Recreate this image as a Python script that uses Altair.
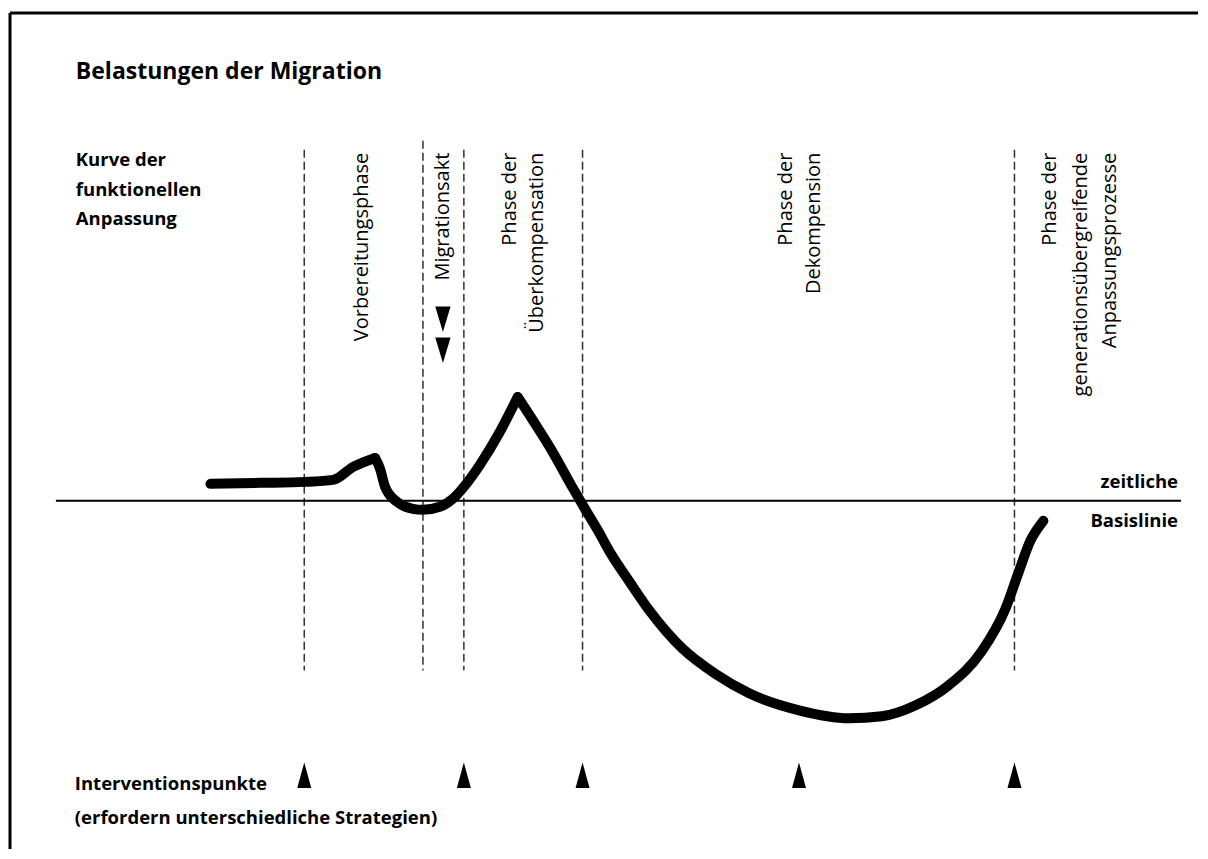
import altair as alt
import pandas as pd

# ---- data (time in arbitrary units, adaptation relative to the temporal baseline) ----
seg1_t = [20.2, 25.2, 29.6, 32.5, 34.5, 36.7]
seg1_a = [1.7, 1.8, 1.9, 2.1, 3.4, 4.3]
seg2_t = [36.7, 37.2, 37.7, 38.9, 40.5, 41.5, 43.2, 44.5, 45.6, 47.2, 49.2, 51.0]
seg2_a = [4.3, 3.2, 1.4, -0.1, -0.8, -0.9, -0.6, 0.2, 1.4, 3.6, 6.9, 10.4]
seg3_t = [51.0, 52.5, 54.5, 56.4, 57.5, 59.0, 60.4, 62.2, 64.2, 67.5, 70.9, 74.2,
          79.2, 84.2, 87.5, 90.9, 94.2, 97.5, 99.9, 101.2, 102.4, 103.7]
seg3_a = [10.4, 8.1, 4.9, 1.5, -0.4, -2.9, -5.4, -8.1, -11.0, -14.8, -17.4, -19.3,
          -21.0, -21.8, -21.6, -20.5, -18.5, -15.1, -10.8, -7.2, -4.0, -2.0]

phase_bounds = [29.6, 41.5, 45.6, 57.5, 100.8]
intervention_points = [29.6, 45.6, 57.5, 79.2, 100.8]

phase_label_t = [35.4, 43.5, 50.2, 52.9, 77.9, 80.7, 104.4, 107.5, 110.4]
phase_label_text = ["Vorbereitungsphase", "Migrationsakt", "Phase der", "Überkompensation",
                    "Phase der", "Dekompension", "Phase der", "generationsübergreifende",
                    "Anpassungsprozesse"]

migration_arrow_t = [43.5, 43.5]
migration_arrow_a = [18.2, 15.1]

title_text = "Belastungen der Migration"
ylabel_lines = ["Kurve der", "funktionellen", "Anpassung"]
ylabel_a = [34.2, 31.2, 28.2]
bottom_lines = ["Interventionspunkte", "(erfordern unterschiedliche Strategien)"]
bottom_a = [-28.4, -31.8]
baseline_lines = ["zeitliche", "Basislinie"]
baseline_label_a = [1.9, -2.0]

# ---- layout (chart coordinate frame) ----
T_MIN, T_MAX = 0, 119.2
A_MIN, A_MAX = -34.9, 49.4
LEFT_TEXT_T = 6.7
RIGHT_TEXT_T = 117.2
TITLE_A = 43.0
PHASE_TOP = 35.2
PHASE_BOTTOM = -17.0
PHASE_LABEL_TOP = 34.9
TRI_A = -27.5
BASE_T0, BASE_T1 = 4.7, 117.5
FRAME_T, FRAME_A = 0.1, 48.9

FONT = "Open Sans"

xs = alt.Scale(domain=[T_MIN, T_MAX], nice=False, zero=False)
ys = alt.Scale(domain=[A_MIN, A_MAX], nice=False, zero=False)
X = lambda f="t": alt.X(f"{f}:Q", scale=xs, axis=None)
Y = lambda f="a": alt.Y(f"{f}:Q", scale=ys, axis=None)

rows = []
for s, (ts, as_) in enumerate([(seg1_t, seg1_a), (seg2_t, seg2_a), (seg3_t, seg3_a)]):
    for i, (t, a) in enumerate(zip(ts, as_)):
        rows.append({"t": t, "a": a, "seg": s, "o": i})
curve_df = pd.DataFrame(rows)
curve = alt.Chart(curve_df).mark_line(
    color="black", strokeWidth=10, strokeCap="round", strokeJoin="round", interpolate="monotone"
).encode(x=X(), y=Y(), detail="seg:N", order="o:Q")

baseline = alt.Chart(pd.DataFrame({"t": [BASE_T0], "t2": [BASE_T1], "a": [0.0]})).mark_rule(
    color="black", strokeWidth=2
).encode(x=X(), x2="t2:Q", y=Y())

tops = [PHASE_TOP] * len(phase_bounds)
tops[1] = 36.1
dashed = alt.Chart(pd.DataFrame({"t": phase_bounds, "a": tops,
                                 "a2": [PHASE_BOTTOM] * len(phase_bounds)})).mark_rule(
    color="#333333", strokeWidth=1.5, strokeDash=[8, 4]
).encode(x=X(), y=Y(), y2="a2:Q")

frame_top = alt.Chart(pd.DataFrame({"t": [FRAME_T], "t2": [T_MAX], "a": [FRAME_A]})).mark_rule(
    color="black", strokeWidth=3
).encode(x=X(), x2="t2:Q", y=Y())
frame_left = alt.Chart(pd.DataFrame({"t": [FRAME_T], "a": [FRAME_A], "a2": [A_MIN]})).mark_rule(
    color="black", strokeWidth=3
).encode(x=X(), y=Y(), y2="a2:Q")

tri_up = alt.Chart(pd.DataFrame({"t": intervention_points,
                                 "a": [TRI_A] * len(intervention_points)})).mark_point(
    shape="M -0.55 1 L 0 -1 L 0.55 1 Z", size=650, filled=True, color="black", opacity=1
).encode(x=X(), y=Y())

tri_down = alt.Chart(pd.DataFrame({"t": migration_arrow_t, "a": migration_arrow_a})).mark_point(
    shape="M -0.6 -1 L 0.6 -1 L 0 1 Z", size=650, filled=True, color="black", opacity=1
).encode(x=X(), y=Y())

phase_labels = alt.Chart(pd.DataFrame({"t": phase_label_t, "a": [PHASE_LABEL_TOP] * len(phase_label_t),
                                       "txt": phase_label_text})).mark_text(
    angle=270, align="right", baseline="middle", font=FONT, fontSize=20, color="black"
).encode(x=X(), y=Y(), text="txt:N")

title = alt.Chart(pd.DataFrame({"t": [LEFT_TEXT_T], "a": [TITLE_A], "txt": [title_text]})).mark_text(
    align="left", baseline="middle", font=FONT, fontSize=23, fontWeight="bold", color="black"
).encode(x=X(), y=Y(), text="txt:N")

ylabel = alt.Chart(pd.DataFrame({"t": [LEFT_TEXT_T] * 3, "a": ylabel_a, "txt": ylabel_lines})).mark_text(
    align="left", baseline="middle", font=FONT, fontSize=18.5, fontWeight="bold", color="black"
).encode(x=X(), y=Y(), text="txt:N")

bottom = alt.Chart(pd.DataFrame({"t": [6.6, 6.6], "a": bottom_a, "txt": bottom_lines})).mark_text(
    align="left", baseline="middle", font=FONT, fontSize=18.5, fontWeight="bold", color="black"
).encode(x=X(), y=Y(), text="txt:N")

base_lbl = alt.Chart(pd.DataFrame({"t": [RIGHT_TEXT_T] * 2, "a": baseline_label_a,
                                   "txt": baseline_lines})).mark_text(
    align="right", baseline="middle", font=FONT, fontSize=18.5, fontWeight="bold", color="black"
).encode(x=X(), y=Y(), text="txt:N")

chart = alt.layer(frame_top, frame_left, dashed, baseline, curve, tri_up, tri_down, phase_labels,
                  title, ylabel, bottom, base_lbl).properties(
    width=1192, height=843,
    autosize=alt.AutoSizeParams(type="fit", contains="padding"),
    padding=0,
    view=alt.ViewBackground(stroke="transparent", strokeWidth=0),
).configure_view(stroke="transparent", strokeWidth=0).configure(background="white")

chart.save("out.html", embed_options={"renderer": "svg", "actions": False})
